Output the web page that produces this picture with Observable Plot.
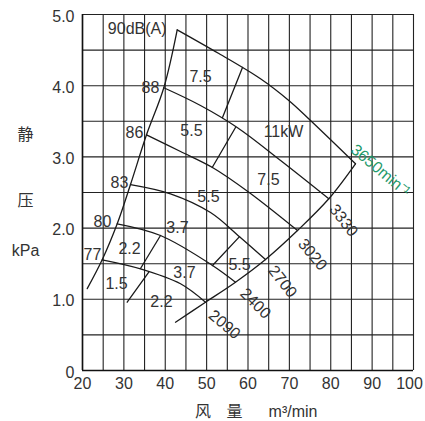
<!DOCTYPE html>
<html>
<head>
<meta charset="utf-8">
<script src="https://cdn.jsdelivr.net/npm/d3@7"></script>
<script src="https://cdn.jsdelivr.net/npm/@observablehq/plot@0.6"></script>
<style>
  html, body { margin: 0; padding: 0; background: #fff; }
  svg { display: block; }
</style>
</head>
<body>
<div id="chart"></div>
<script>
// ---- axis ticks ----
const xTicks = [20, 30, 40, 50, 60, 70, 80, 90];
const xTickLast = [100];
const yTicks = [0, 1, 2, 3, 4, 5];
const xGrid = [20, 25, 30, 35, 40, 45, 50, 55, 60, 65, 70, 75, 80, 85, 90, 95, 100];
const yGrid = [0, 0.5, 1, 1.5, 2, 2.5, 3, 3.5, 4, 4.5, 5];

// ---- noise-limit (left) line: [flow m3/min, static pressure kPa] ----
const surgeLine = [[21.14, 1.15], [24.76, 1.555], [28.39, 2.06], [31.6, 2.612], [35.47, 3.31], [39.65, 3.971], [42.89, 4.785]];

// ---- fan speed curves ----
const rpm3650 = [[42.89, 4.785], [52.95, 4.452], [63.02, 4.097], [69.86, 3.792], [75.11, 3.511], [85.98, 2.903]];
const rpm3330 = [[39.65, 3.971], [48.52, 3.722], [57.39, 3.413], [67.88, 2.949], [79.53, 2.412]];
const rpm3020 = [[35.47, 3.31], [43.69, 3.076], [51.42, 2.851], [60.12, 2.507], [71.96, 1.966]];
const rpm2700 = [[31.6, 2.612], [41.27, 2.482], [50.94, 2.219], [57.95, 1.88], [64.23, 1.559]];
const rpm2400 = [[28.39, 2.06], [38.85, 1.896], [51.42, 1.475], [56.98, 1.24]];
const rpm2090 = [[24.76, 1.555], [34.02, 1.428], [43.69, 1.218], [49.73, 0.959]];

// ---- maximum-flow (right) line ----
const maxFlowLine = [[85.98, 2.903], [79.53, 2.412], [71.96, 1.966], [64.23, 1.559], [56.98, 1.24], [49.73, 0.959], [42.48, 0.678]];

// ---- motor power boundary segments ----
const powerP1 = [[53.84, 3.553], [58.67, 4.256]];
const powerP2 = [[56.98, 3.413], [51.35, 2.851]];
const powerP4 = [[57.95, 1.88], [51.42, 1.475]];
const powerP5a = [[38.85, 1.896], [34.02, 1.433]];
const powerP5b = [[36.02, 1.383], [30.8, 0.959]];

// ---- labels ----
const noiseLabels = ["90dB(A)", "88", "86", "83", "80", "77"];
const noiseX = [33.22, 36.43, 32.57, 28.94, 24.83, 22.42];
const noiseY = [4.803, 3.975, 3.343, 2.64, 2.093, 1.629];

const powerLabels = ["7.5", "5.5", "11kW", "7.5", "5.5", "3.7", "2.2", "3.7", "5.5", "1.5", "2.2"];
const powerX = [48.52, 46.34, 68.58, 64.95, 50.45, 42.96, 31.36, 44.65, 57.95, 28.22, 39.09];
const powerY = [4.129, 3.371, 3.357, 2.683, 2.444, 2.008, 1.713, 1.376, 1.489, 1.222, 0.969];

const speedLabels = ["3650min⁻¹", "3330", "3020", "2700", "2400", "2090"];
const speedX = [92.02, 83.08, 75.59, 68.34, 61.81, 54.32];
const speedY = [2.809, 2.107, 1.629, 1.25, 0.941, 0.646];
const speedAngle = [40, 52, 50, 52, 45, 40];
const speedColor = ["#1f9a6b", "#333", "#333", "#333", "#333", "#333"];

const yTitle = ["静", "压", "kPa"];
const xTitle = ["风", "量", "m³/min"];

// ---- build ----
const latin = "'Liberation Sans', Arial, 'Noto Sans CJK SC', sans-serif";
const cjk = "'Noto Sans CJK SC', 'Liberation Sans', sans-serif";
const ink = "#1a1a1a";
const txt = "#333";

const curveOpts = {stroke: ink, strokeWidth: 1.3, curve: "catmull-rom"};
const segOpts = {stroke: ink, strokeWidth: 1.3};

const noiseData = noiseLabels.map((t, i) => ({t, x: noiseX[i], y: noiseY[i]}));
const powerData = powerLabels.map((t, i) => ({t, x: powerX[i], y: powerY[i]}));
const speedData = speedLabels.map((t, i) => ({t, x: speedX[i], y: speedY[i], a: speedAngle[i], c: speedColor[i]}));

const chart = Plot.plot({
  width: 425,
  height: 421,
  marginLeft: 82,
  marginRight: 12,
  marginTop: 14,
  marginBottom: 51,
  style: {fontFamily: latin, fontSize: "16px", color: txt, background: "#fff"},
  x: {domain: [20, 100]},
  y: {domain: [0, 5]},
  marks: [
    Plot.ruleX(xGrid, {stroke: "#222", strokeWidth: 1.1}),
    Plot.ruleY(yGrid, {stroke: "#222", strokeWidth: 1.1}),
    Plot.ruleX([20], {stroke: "#111", strokeWidth: 1.6}),
    Plot.ruleY([0], {stroke: "#111", strokeWidth: 1.6}),
    Plot.axisX(xTicks, {tickSize: 0, tickPadding: 7, fontSize: 16, fill: txt, label: null}),
    Plot.axisX(xTickLast, {tickSize: 0, tickPadding: 7, fontSize: 16, fill: txt, label: null, dx: -4}),
    Plot.axisY(yTicks, {tickSize: 0, tickPadding: 8, fontSize: 16, fill: txt, label: null, dy: 2,
      tickFormat: d => d === 0 ? "0" : d.toFixed(1)}),
    Plot.line(surgeLine, curveOpts),
    Plot.line(rpm3650, curveOpts),
    Plot.line(rpm3330, curveOpts),
    Plot.line(rpm3020, curveOpts),
    Plot.line(rpm2700, curveOpts),
    Plot.line(rpm2400, curveOpts),
    Plot.line(rpm2090, curveOpts),
    Plot.line(maxFlowLine, curveOpts),
    Plot.line(powerP1, segOpts),
    Plot.line(powerP2, segOpts),
    Plot.line(powerP4, segOpts),
    Plot.line(powerP5a, segOpts),
    Plot.line(powerP5b, segOpts),
    Plot.text(noiseData, {x: "x", y: "y", text: "t", fill: txt, fontSize: 16}),
    Plot.text(powerData, {x: "x", y: "y", text: "t", fill: txt, fontSize: 16}),
    Plot.text(speedData, {x: "x", y: "y", text: "t", fill: d => d.c, rotate: "a", fontSize: 16}),
    // axis titles
    Plot.text([yTitle[0]], {frameAnchor: "top-left", dx: -57, dy: 120, textAnchor: "middle", lineAnchor: "middle", fontFamily: cjk, fontSize: 16, fill: txt}),
    Plot.text([yTitle[1]], {frameAnchor: "top-left", dx: -57, dy: 186, textAnchor: "middle", lineAnchor: "middle", fontFamily: cjk, fontSize: 16, fill: txt}),
    Plot.text([yTitle[2]], {frameAnchor: "top-left", dx: -57, dy: 236, textAnchor: "middle", lineAnchor: "middle", fontSize: 16, fill: txt}),
    Plot.text([xTitle[0]], {frameAnchor: "bottom-left", dx: 120.5, dy: 41, textAnchor: "middle", lineAnchor: "middle", fontFamily: cjk, fontSize: 16, fill: txt}),
    Plot.text([xTitle[1]], {frameAnchor: "bottom-left", dx: 152, dy: 41, textAnchor: "middle", lineAnchor: "middle", fontFamily: cjk, fontSize: 16, fill: txt}),
    Plot.text([xTitle[2]], {frameAnchor: "bottom-left", dx: 210.5, dy: 41, textAnchor: "middle", lineAnchor: "middle", fontSize: 16, fill: txt})
  ]
});
document.getElementById("chart").appendChild(chart);
</script>
</body>
</html>
